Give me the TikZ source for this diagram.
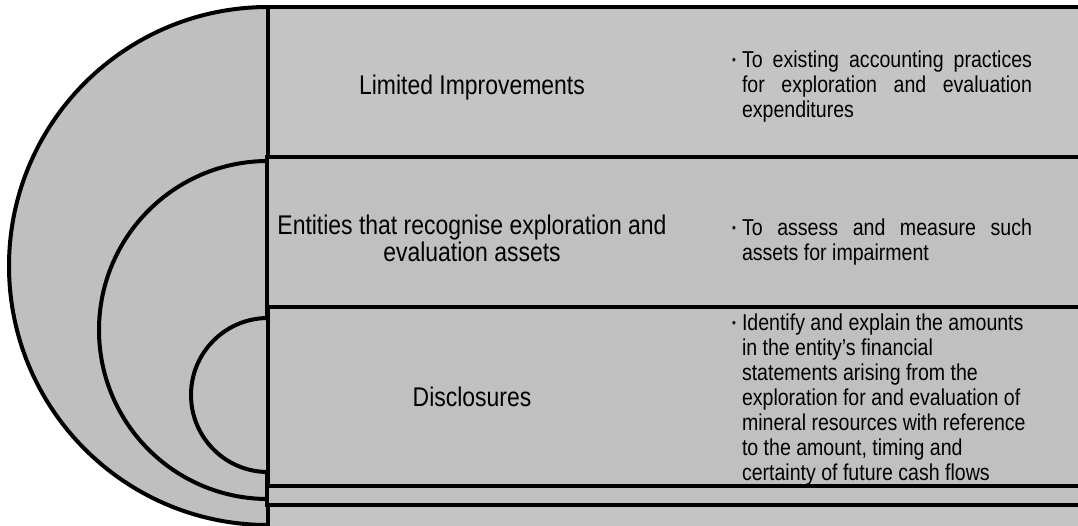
\documentclass[tikz,border=0pt]{standalone}
\usepackage{fontspec}
\setmainfont[FakeStretch=0.85]{Liberation Sans}
\definecolor{bandA}{RGB}{196,196,196}
\definecolor{bandB}{RGB}{192,192,192}
\definecolor{discgray}{RGB}{191,191,191}
\newcommand{\bdot}{\leavevmode\llap{\raisebox{3pt}{\fontsize{13}{13}\selectfont\textbullet}\hspace{6pt}}}
\begin{document}
\begin{tikzpicture}[x=1pt,y=-1pt,line width=4pt,
  bandtop/.style={draw=black,fill=bandA},
  bandlow/.style={draw=black,fill=bandB},
  disc/.style={draw=black,fill=discgray},
  mainlbl/.style={anchor=base,inner sep=0pt,font=\fontsize{27}{27.5}\selectfont},
  bultxt/.style={anchor=base west,inner sep=0pt,font=\fontsize{23}{25}\selectfont}]
\useasboundingbox (0,0) rectangle (1078,525);
\clip (0,0) rectangle (1078,525);
% outer level
\filldraw[disc] (268,266) circle[radius=259];
\filldraw[bandtop] (268,7) rectangle (1100,545);
% middle level
\filldraw[disc] (268,330) circle[radius=169];
\filldraw[bandlow] (267,157) rectangle (1100,505);
% inner level
\filldraw[disc] (268,395) circle[radius=77];
\filldraw[bandlow] (268,307) rectangle (1100,486);
% labels
\node[mainlbl] (l1) at (472,94) {Limited Improvements};
\node[mainlbl] (l2) at (472,234) {\parbox[t]{420pt}{\centering Entities that recognise exploration and\\evaluation assets}};
\node[mainlbl] (l3) at (472,406) {Disclosures};
% bullet texts
\node[bultxt] (b1) at (740,67) {\parbox[t]{290pt}{\raggedright
\bdot\makebox[290pt][s]{To existing accounting practices}\\
\makebox[290pt][s]{for exploration and evaluation}\\
expenditures}};
\node[bultxt] (b2) at (740,235) {\parbox[t]{290pt}{\raggedright
\bdot\makebox[290pt][s]{To assess and measure such}\\
assets for impairment}};
\node[bultxt] (b3) at (740,330) {\parbox[t]{300pt}{\raggedright
\bdot Identify and explain the amounts\\
in the entity’s financial\\
statements arising from the\\
exploration for and evaluation of\\
mineral resources with reference\\
to the amount, timing and\\
certainty of future cash flows}};
\end{tikzpicture}
\end{document}
